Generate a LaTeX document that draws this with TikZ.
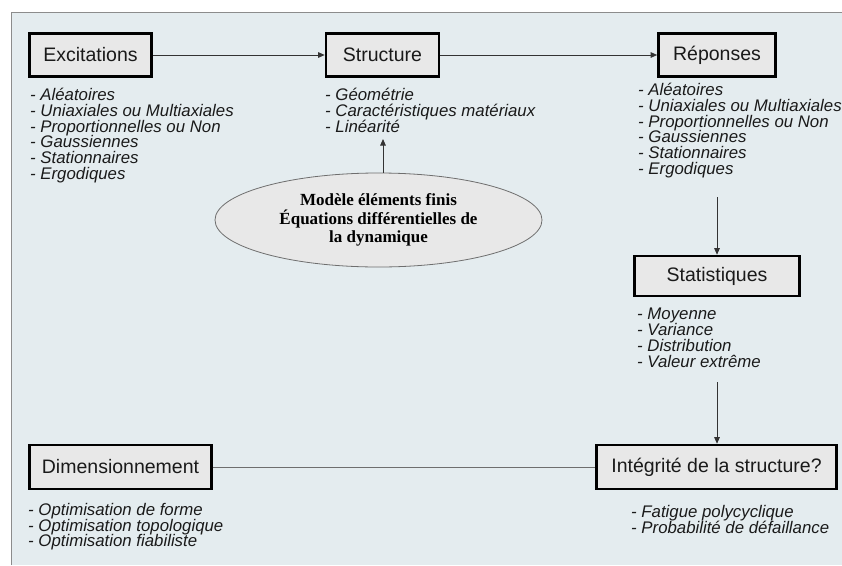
\documentclass[tikz,border=0pt]{standalone}
\usepackage{fontspec}
\setmainfont{Liberation Sans}
\newfontfamily\ellfont{Liberation Serif}
\usetikzlibrary{arrows.meta,shapes.geometric}
\definecolor{panelbg}{HTML}{E4ECEF}
\definecolor{boxbg}{HTML}{E8E8E8}
\definecolor{edgegray}{HTML}{8C8C8C}
\definecolor{linec}{HTML}{333333}
\definecolor{ellgray}{HTML}{6E6E6E}
\definecolor{txt}{HTML}{1A1A1A}
\setlength{\lineskiplimit}{-30pt}
\begin{document}
\begin{tikzpicture}[x=1pt,y=-1pt,
  mainbox/.style={draw=black, line width=2.6pt, fill=boxbg, inner sep=0pt, text=txt,
    font=\fontsize{19.5}{22}\selectfont},
  itemlist/.style={anchor=north west, inner sep=0pt, align=left, text=txt,
    font=\fontsize{16.8}{15.8}\selectfont\itshape},
  conn/.style={draw=linec, line width=0.9pt},
  arr/.style={conn, -{Triangle[length=6.5pt,width=5.5pt]}}]
\useasboundingbox (0,0) rectangle (842,565);
% panel
\fill[panelbg] (11,12) rectangle (842,565);
\draw[edgegray, line width=1pt] (11,565) -- (11,12) -- (842,12);

% boxes
\node[mainbox, minimum width=122pt, minimum height=43pt] (exc) at (90.5,55) {Excitations};
\node[mainbox, minimum width=113pt, minimum height=43pt] (str) at (382.5,55) {Structure};
\node[mainbox, minimum width=117pt, minimum height=43pt] (rep) at (717,55) {Réponses};
\node[mainbox, minimum width=165pt, minimum height=40pt] (stat) at (717,276) {Statistiques};
\node[mainbox, minimum width=182pt, minimum height=44pt] (dim) at (120.5,467) {Dimensionnement};
\node[mainbox, minimum width=240pt, minimum height=44pt] (integ) at (716.5,467) {Intégrité de la structure?};

% lists
\node[itemlist] (excL) at (30,88) {- Aléatoires\\- Uniaxiales ou Multiaxiales\\- Proportionnelles ou Non\\- Gaussiennes\\- Stationnaires\\- Ergodiques};
\node[itemlist] (strL) at (325,88) {- Géométrie\\- Caractéristiques matériaux\\- Linéarité};
\node[itemlist] (repL) at (638,83) {- Aléatoires\\- Uniaxiales ou Multiaxiales\\- Proportionnelles ou Non\\- Gaussiennes\\- Stationnaires\\- Ergodiques};
\node[itemlist] (statL) at (637,308) {- Moyenne\\- Variance\\- Distribution\\- Valeur extrême};
\node[itemlist] (dimL) at (28,503) {- Optimisation de forme\\- Optimisation topologique\\- Optimisation fiabiliste};
\node[itemlist] (intL) at (631,505) {- Fatigue polycyclique\\- Probabilité de défaillance};

% ellipse
\node[ellipse, draw=ellgray, line width=0.8pt, fill=boxbg, minimum width=327pt, minimum height=94pt,
  inner sep=0pt, align=center, text=black,
  font=\ellfont\bfseries\fontsize{17}{18.5}\selectfont] (ell) at (378.5,220)
  {Modèle éléments finis\\Équations différentielles de\\la dynamique};

% connectors
\coordinate (linTip) at (383,139);
\coordinate (repOut) at (717,197);
\coordinate (statOut) at (717,382);
\draw[arr] (exc.east) -- (str.west);
\draw[arr] (str.east) -- (rep.west);
\draw[arr] (ell.north -| linTip) -- (linTip);
\draw[arr] (repOut) -- (stat.north);
\draw[arr] (statOut) -- (statOut |- integ.north);
\draw[conn, draw=ellgray] (dim.east) -- (integ.west);
\end{tikzpicture}
\end{document}
